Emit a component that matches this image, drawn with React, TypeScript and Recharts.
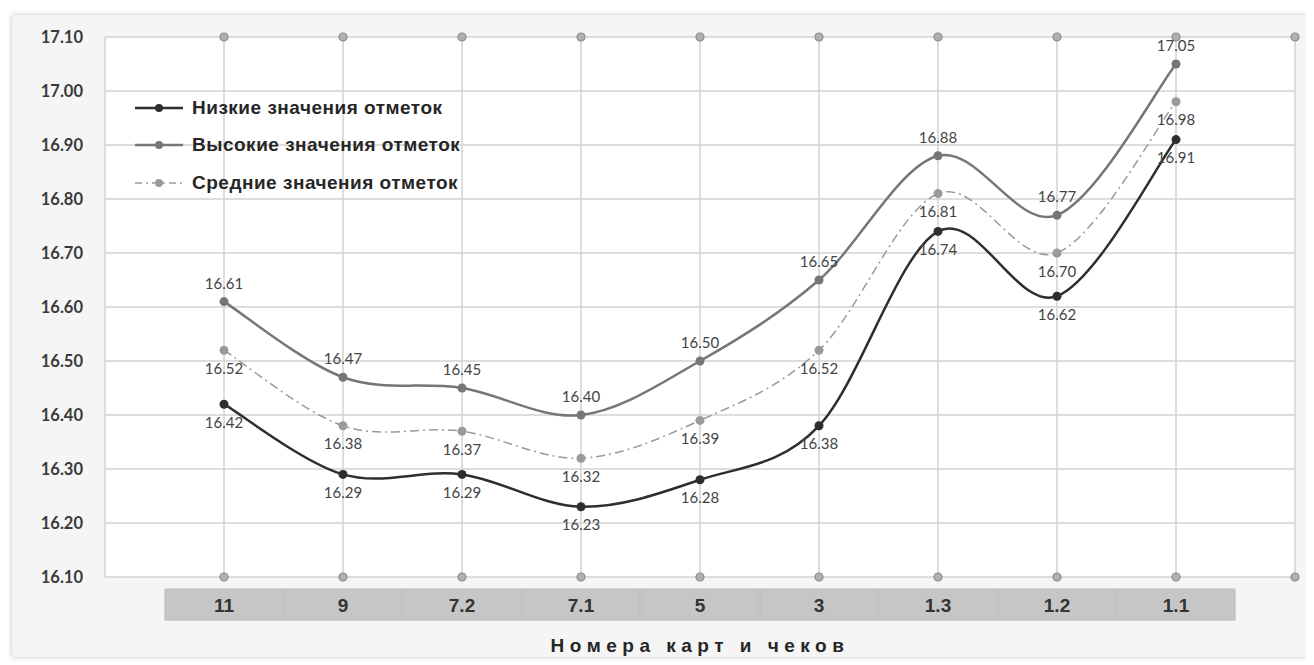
import React from 'react';
import {
  ComposedChart,
  Line,
  Scatter,
  XAxis,
  YAxis,
  CartesianGrid,
  Legend,
  LabelList,
  Label,
} from 'recharts';

const cards = ['11', '9', '7.2', '7.1', '5', '3', '1.3', '1.2', '1.1'];
const lowMarks = [16.42, 16.29, 16.29, 16.23, 16.28, 16.38, 16.74, 16.62, 16.91];
const highMarks = [16.61, 16.47, 16.45, 16.4, 16.5, 16.65, 16.88, 16.77, 17.05];
const meanMarks = [16.52, 16.38, 16.37, 16.32, 16.39, 16.52, 16.81, 16.7, 16.98];
const yTicks = [16.1, 16.2, 16.3, 16.4, 16.5, 16.6, 16.7, 16.8, 16.9, 17.0, 17.1];
const xTicks = [0, 1, 2, 3, 4, 5, 6, 7, 8, 9, 10];
const edgeSlots = [1, 2, 3, 4, 5, 6, 7, 8, 9, 10];
const edgeTop = 17.1;
const edgeBottom = 16.1;

const rows = cards.map((card, i) => ({
  pos: i + 1,
  card,
  low: lowMarks[i],
  high: highMarks[i],
  mean: meanMarks[i],
}));
const topEdge = edgeSlots.map((p) => ({ pos: p, v: edgeTop }));
const bottomEdge = edgeSlots.map((p) => ({ pos: p, v: edgeBottom }));

const LOW = '#2e2e2e';
const HIGH = '#767676';
const MEAN = '#9a9a9a';

// smooth line like Excel (catmull-rom through the points)
const smoothCurve: any = (context: any) => {
  let pts: [number, number][] = [];
  return {
    areaStart() {},
    areaEnd() {},
    lineStart() {
      pts = [];
    },
    lineEnd() {
      if (!pts.length) return;
      context.moveTo(pts[0][0], pts[0][1]);
      for (let i = 0; i < pts.length - 1; i++) {
        const p0 = pts[Math.max(i - 1, 0)];
        const p1 = pts[i];
        const p2 = pts[i + 1];
        const p3 = pts[Math.min(i + 2, pts.length - 1)];
        context.bezierCurveTo(
          p1[0] + (p2[0] - p0[0]) / 6,
          p1[1] + (p2[1] - p0[1]) / 6,
          p2[0] - (p3[0] - p1[0]) / 6,
          p2[1] - (p3[1] - p1[1]) / 6,
          p2[0],
          p2[1]
        );
      }
    },
    point(x: number, y: number) {
      pts.push([x, y]);
    },
  };
};

const fmt = (v: any) => Number(v).toFixed(2);

const CardTick = (props: any) => {
  const { x, y, payload } = props;
  const row = rows.find((r) => r.pos === payload.value);
  if (!row) return null;
  return (
    <g>
      <rect x={x - 59} y={y} width={118} height={31} fill="#c6c6c6" stroke="#b8b8b8" strokeWidth={1} />
      <text
        x={x}
        y={y + 16}
        textAnchor="middle"
        dominantBaseline="central"
        fontFamily="'Liberation Sans Narrow', 'Liberation Sans', Arial, sans-serif"
        fontWeight="bold"
        fontSize={19}
        fill="#333"
      >
        {row.card}
      </text>
    </g>
  );
};

const legendItems = [
  { name: 'Низкие значения отметок', color: LOW, width: 2.5, dash: undefined as string | undefined },
  { name: 'Высокие значения отметок', color: HIGH, width: 2.5, dash: undefined },
  { name: 'Средние значения отметок', color: MEAN, width: 1.5, dash: '7 4 2 4' },
];

const LegendBox = () => (
  <div>
    {legendItems.map((it) => (
      <div key={it.name} style={{ display: 'flex', alignItems: 'center', height: 37.5 }}>
        <svg width={52} height={12}>
          <line x1={1} y1={6} x2={49} y2={6} stroke={it.color} strokeWidth={it.width} strokeDasharray={it.dash} />
          <circle cx={25} cy={6} r={4} fill={it.color} />
        </svg>
        <span
          style={{
            marginLeft: 6,
            fontFamily: "'Liberation Sans', Arial, sans-serif",
            fontWeight: 'bold',
            fontSize: 19,
            letterSpacing: 0.5,
            color: '#262626',
            whiteSpace: 'nowrap',
          }}
        >
          {it.name}
        </span>
      </div>
    ))}
  </div>
);

const labelStyle = {
  fontFamily: 'Lato, sans-serif',
  fontSize: 15,
  fill: '#444',
};

const edgeDot = (p: any) => <circle cx={p.cx} cy={p.cy} r={4} fill="#b0b0b0" stroke="#8a8a8a" strokeWidth={1.2} />;

export default function App() {
  return (
    <div style={{ position: 'relative', width: 1314, height: 665, marginLeft: -8, marginTop: -8, background: '#fff' }}>
      <div
        style={{
          position: 'absolute',
          left: 12,
          top: 15,
          width: 1294,
          height: 642,
          background: '#f5f5f5',
          boxShadow: '0 0 5px rgba(0,0,0,0.25)',
        }}
      />
      <div style={{ position: 'absolute', left: 0, top: 0 }}>
        <ComposedChart width={1314} height={665} data={rows} margin={{ top: 37, right: 19, bottom: 8, left: 15 }}>
          <CartesianGrid stroke="#d2d2d2" strokeWidth={1.5} fill="#ffffff" fillOpacity={1} />
          <XAxis
            dataKey="pos"
            type="number"
            domain={[0, 10]}
            ticks={xTicks}
            interval={0}
            height={80}
            axisLine={false}
            tickLine={false}
            tickSize={0}
            tickMargin={12}
            tick={<CardTick />}
          >
            <Label
              value="Номера карт и чеков"
              position="insideBottom"
              offset={5}
              style={{
                fontFamily: "'Liberation Sans', Arial, sans-serif",
                fontWeight: 'bold',
                fontSize: 19,
                letterSpacing: 5.5,
                fill: '#262626',
              }}
            />
          </XAxis>
          <YAxis
            type="number"
            domain={[16.1, 17.1]}
            ticks={yTicks}
            interval={0}
            width={90}
            axisLine={false}
            tickLine={false}
            tickSize={0}
            tickMargin={22}
            tickFormatter={fmt}
            tick={{ fontFamily: 'Lato, sans-serif', fontWeight: 'bold', fontSize: 16.5, fill: '#3a3a3a' }}
          />
          <Legend
            layout="vertical"
            verticalAlign="middle"
            align="center"
            content={<LegendBox />}
            wrapperStyle={{ left: 134, top: 89, width: 400 }}
          />
          <Scatter data={topEdge} dataKey="v" fill="#b0b0b0" isAnimationActive={false} legendType="none" shape={edgeDot} />
          <Scatter data={bottomEdge} dataKey="v" fill="#b0b0b0" isAnimationActive={false} legendType="none" shape={edgeDot} />
          <Line
            dataKey="mean"
            type={smoothCurve}
            stroke={MEAN}
            strokeWidth={1.5}
            strokeDasharray="9 4 2 4"
            dot={{ r: 4.5, fill: MEAN, stroke: MEAN, strokeWidth: 0 }}
            isAnimationActive={false}
          >
            <LabelList dataKey="mean" position="bottom" offset={13} formatter={fmt} style={labelStyle} />
          </Line>
          <Line
            dataKey="high"
            type={smoothCurve}
            stroke={HIGH}
            strokeWidth={2.5}
            dot={{ r: 4.5, fill: HIGH, stroke: HIGH, strokeWidth: 0 }}
            isAnimationActive={false}
          >
            <LabelList dataKey="high" position="top" offset={13} formatter={fmt} style={labelStyle} />
          </Line>
          <Line
            dataKey="low"
            type={smoothCurve}
            stroke={LOW}
            strokeWidth={2.5}
            dot={{ r: 4.5, fill: LOW, stroke: LOW, strokeWidth: 0 }}
            isAnimationActive={false}
          >
            <LabelList dataKey="low" position="bottom" offset={13} formatter={fmt} style={labelStyle} />
          </Line>
        </ComposedChart>
      </div>
    </div>
  );
}
